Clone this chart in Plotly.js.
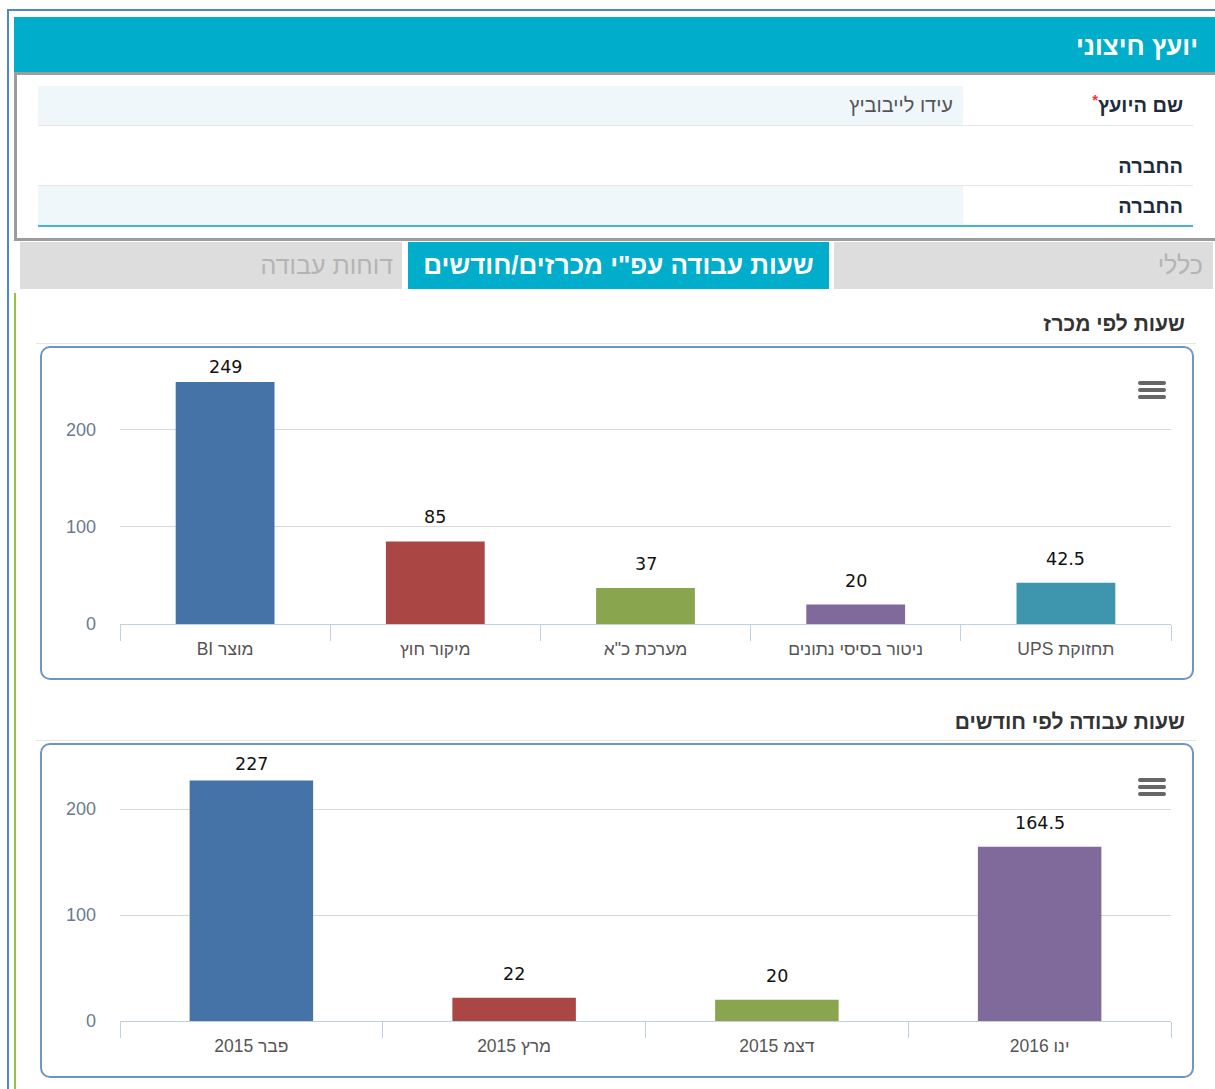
<!DOCTYPE html>
<html lang="he">
<head>
<meta charset="utf-8">
<script src="https://cdn.plot.ly/plotly-3.0.1.min.js"></script>
<style>
  html, body { margin:0; padding:0; background:#fff; width:1215px; height:1089px; overflow:hidden; }
  body { font-family: "Liberation Sans", Arial, "DejaVu Sans", sans-serif; position:relative; }
  .abs { position:absolute; }
  .rtl { direction:rtl; white-space:nowrap; }
  #outerTop { left:7px; top:9px; width:1210px; height:2px; background:#4f88c6; }
  #outerLeft { left:7px; top:9px; width:2px; height:1085px; background:#4f88c6; }
  #greenLine { left:14px; top:293px; width:2px; height:800px; background:#8dc63f; }
  #header { left:14px; top:17px; width:1205px; height:56px; background:#00aecb; }
  #headerTitle { right:17px; top:31px; color:#fff; font-weight:bold; font-size:26px; line-height:30px; }
  #form { left:14px; top:72px; width:1206px; height:169px; border:3px solid #9c9c9c; box-sizing:border-box; background:#fff; }
  .rowbg { background:#f0f7fb; }
  .hline { height:1px; background:#e6e6e6; }
  .lbl { color:#1d2b3c; font-weight:bold; font-size:20px; line-height:24px; }
  .val { color:#555; font-size:20px; line-height:24px; }
  .tab { top:242px; height:47px; }
  .tabtxt { font-size:25px; line-height:30px; top:250px; }
  .ctitle { color:#333; font-weight:bold; font-size:21px; line-height:24px; right:30px; }
  .box { left:40px; width:1154px; border:2px solid #6f95c6; border-radius:10px; box-sizing:border-box; }
  .ham { width:28px; height:4px; background:#666; border-radius:2px; }
  .chart { left:40px; width:1154px; }
</style>
</head>
<body>
<div class="abs" id="outerTop"></div>
<div class="abs" id="outerLeft"></div>
<div class="abs" id="greenLine"></div>

<div class="abs" id="header"></div>
<div class="abs rtl" id="headerTitle">יועץ חיצוני</div>

<div class="abs" id="form"></div>
<div class="abs rowbg" style="left:38px;top:86px;width:925px;height:39px;"></div>
<div class="abs hline" style="left:38px;top:125px;width:1155px;"></div>
<div class="abs hline" style="left:38px;top:185px;width:1155px;"></div>
<div class="abs rowbg" style="left:38px;top:186px;width:925px;height:40px;"></div>
<div class="abs" style="left:38px;top:225px;width:1155px;height:2px;background:#45b2e6;"></div>
<div class="abs rtl lbl" style="right:32px;top:93px;">שם היועץ<span style="color:#e33;font-size:15px;vertical-align:top;line-height:14px;">*</span></div>
<div class="abs rtl val" style="right:262px;top:93px;">עידו לייבוביץ</div>
<div class="abs rtl lbl" style="right:32px;top:154px;">החברה</div>
<div class="abs rtl lbl" style="right:32px;top:194px;">החברה</div>

<div class="abs tab" style="left:834px;width:379px;background:#dddddd;"></div>
<div class="abs rtl tabtxt" style="right:12px;color:#b4b4b4;">כללי</div>
<div class="abs tab" style="left:408px;width:421px;background:#00aecb;"></div>
<div class="abs rtl tabtxt" style="left:408px;width:421px;text-align:center;color:#fff;font-weight:bold;font-size:26px;">שעות עבודה עפ"י מכרזים/חודשים</div>
<div class="abs tab" style="left:20px;width:382px;background:#dddddd;"></div>
<div class="abs rtl tabtxt" style="right:822px;color:#b4b4b4;">דוחות עבודה</div>

<div class="abs rtl ctitle" style="top:312px;">שעות לפי מכרז</div>
<div class="abs" style="left:36px;top:343px;width:1160px;height:1px;background:#e6e6e6;"></div>
<div class="abs box" style="top:346px;height:334px;"></div>
<div class="abs chart" id="chart1" style="top:346px;height:334px;"></div>
<div class="abs ham" style="left:1138px;top:381px;"></div>
<div class="abs ham" style="left:1138px;top:388px;"></div>
<div class="abs ham" style="left:1138px;top:395px;"></div>

<div class="abs rtl ctitle" style="top:710px;">שעות עבודה לפי חודשים</div>
<div class="abs" style="left:36px;top:740px;width:1160px;height:1px;background:#e6e6e6;"></div>
<div class="abs box" style="top:743px;height:335px;"></div>
<div class="abs chart" id="chart2" style="top:743px;height:335px;"></div>
<div class="abs ham" style="left:1138px;top:778px;"></div>
<div class="abs ham" style="left:1138px;top:785px;"></div>
<div class="abs ham" style="left:1138px;top:792px;"></div>

<script>
// ---- data: chart 1 (hours by tender) ----
const tenderCategories = ['מוצר BI', 'מיקור חוץ', 'מערכת כ"א', 'ניטור בסיסי נתונים', 'תחזוקת UPS'];
const tenderHours = [249, 85, 37, 20, 42.5];
const tenderLabels = ['249', '85', '37', '20', '42.5'];

// ---- data: chart 2 (work hours by month) ----
const monthCategories = ['פבר 2015', 'מרץ 2015', 'דצמ 2015', 'ינו 2016'];
const monthHours = [227, 22, 20, 164.5];
const monthLabels = ['227', '22', '20', '164.5'];

const yTickVals = [0, 100, 200];
const yTickText = ['0', '100', '200'];

const palette = ['#4572a7', '#aa4643', '#89a54e', '#80699b', '#3d96ae'];

// wrap text in a right-to-left embedding so mixed Hebrew/Latin reads correctly
const rtlText = s => '\u202B' + s + '\u202C';

function drawChart(id, cats, vals, labels, opts) {
  const yMax = 250;
  const plotH = opts.height - opts.t - opts.b;
  const trace = {
    type: 'bar',
    x: cats,
    y: vals,
    width: opts.barWidth,
    marker: { color: palette.slice(0, cats.length), line: { width: 0 } },
    hoverinfo: 'skip'
  };
  const annotations = vals.map((v, i) => {
    const barTop = opts.t + plotH * (1 - v / yMax);
    const center = Math.max(21, barTop - 24);
    return {
      x: cats[i], y: v, xref: 'x', yref: 'y',
      text: labels[i], showarrow: false,
      yanchor: 'middle', yshift: barTop - center,
      font: { family: 'DejaVu Sans, Verdana, sans-serif', size: 17.5, color: '#111' }
    };
  });
  const layout = {
    width: opts.width, height: opts.height,
    margin: { l: opts.l, r: opts.r, t: opts.t, b: opts.b },
    paper_bgcolor: 'rgba(0,0,0,0)',
    plot_bgcolor: 'rgba(0,0,0,0)',
    showlegend: false,
    font: { family: 'Liberation Sans, Arial, sans-serif' },
    xaxis: {
      type: 'category',
      tickvals: cats, ticktext: cats.map(rtlText),
      showline: true, linecolor: '#c0d0e0', linewidth: 1,
      ticks: 'outside', tickson: 'boundaries', ticklen: 16, tickcolor: '#c0d0e0', tickwidth: 1,
      ticklabelstandoff: 9,
      showgrid: false, zeroline: false,
      tickfont: { family: 'Liberation Sans, Arial, sans-serif', size: 17.5, color: '#555' },
      fixedrange: true
    },
    yaxis: {
      range: [0, yMax],
      tickvals: yTickVals, ticktext: yTickText,
      showgrid: true, gridcolor: '#d8d8d8', gridwidth: 1,
      zeroline: false, showline: false, ticks: '',
      ticklabelstandoff: 23,
      tickfont: { family: 'Liberation Sans, Arial, sans-serif', size: 18, color: '#6b7a90' },
      fixedrange: true
    },
    annotations: annotations
  };
  Plotly.newPlot(id, [trace], layout, { displayModeBar: false, staticPlot: true });
}

drawChart('chart1', tenderCategories, tenderHours, tenderLabels,
  { width: 1154, height: 334, l: 80, r: 23, t: 35, b: 56, barWidth: 0.47 });
drawChart('chart2', monthCategories, monthHours, monthLabels,
  { width: 1154, height: 335, l: 80, r: 23, t: 13, b: 57, barWidth: 0.47 });
</script>
</body>
</html>
